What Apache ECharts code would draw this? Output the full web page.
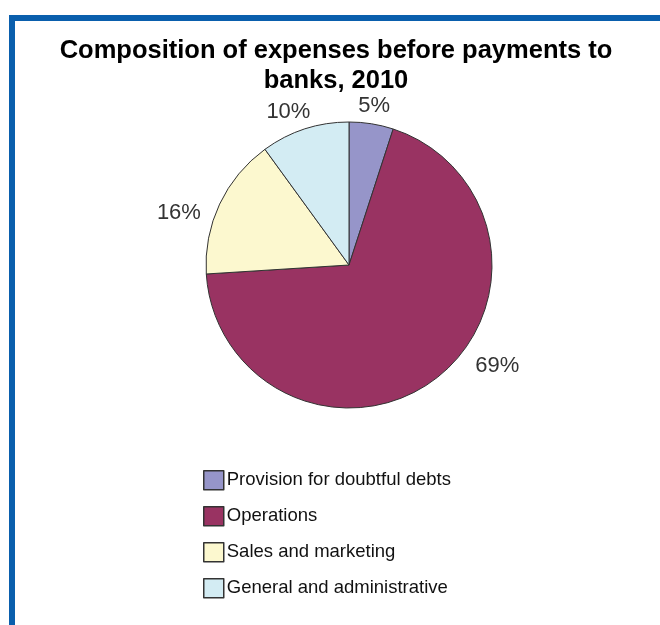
<!DOCTYPE html>
<html><head><meta charset="utf-8">
<script src="https://cdn.jsdelivr.net/npm/echarts@6/dist/echarts.min.js"></script>
<style>html,body{margin:0;padding:0;background:#fff}#c{width:660px;height:625px}</style>
</head><body><div id="c"></div>
<script>
const titleText = 'Composition of expenses before payments to\nbanks, 2010';
const categories = ['Provision for doubtful debts', 'Operations', 'Sales and marketing', 'General and administrative'];
const shares = [5, 69, 16, 10];
const colors = ['#9695c9', '#993362', '#fcf8cf', '#d3ecf3'];
const labelOffsets = [[-1, 6], [46, -31], [-19, 19], [-9, 6]];

const pieData = categories.map((name, i) => ({
  name, value: shares[i], itemStyle: { color: colors[i] }
}));
const labelData = categories.map((name, i) => ({
  name, value: shares[i], label: { offset: labelOffsets[i] }
}));

const chart = echarts.init(document.getElementById('c'), null, { renderer: 'canvas' });
chart.setOption({
  animation: false,
  backgroundColor: '#ffffff',
  title: {
    text: titleText,
    left: 331, top: 31, textAlign: 'center',
    textStyle: { fontFamily: 'Liberation Sans, Arial, sans-serif', fontWeight: 'bold', fontSize: 25.5, lineHeight: 30, color: '#000' }
  },
  graphic: [
    { type: 'rect', shape: { x: 9, y: 15, width: 651, height: 6 }, style: { fill: '#0a5fad' } },
    { type: 'rect', shape: { x: 9, y: 15, width: 6, height: 610 }, style: { fill: '#0a5fad' } }
  ],
  legend: {
    orient: 'vertical', left: 198, top: 465,
    itemWidth: 20, itemHeight: 19, itemGap: 15.5,
    icon: 'rect',
    data: categories.map((name, i) => ({ name, itemStyle: { color: colors[i], borderColor: '#333', borderWidth: 1.5 } })),
    textStyle: { fontFamily: 'Liberation Sans, Arial, sans-serif', fontSize: 18.5, color: '#111', padding: [0, 0, 0, -2] },
    selectedMode: false
  },
  series: [
    {
      type: 'pie', name: 'main', center: [349, 265], radius: [0, 143],
      startAngle: 90, clockwise: true,
      itemStyle: { borderColor: '#333', borderWidth: 1 },
      label: { show: false }, labelLine: { show: false },
      emphasis: { disabled: true },
      data: pieData
    },
    {
      type: 'pie', name: 'labels', center: [349, 265], radius: [143, 185],
      startAngle: 90, clockwise: true, silent: true, legendHoverLink: false,
      itemStyle: { color: 'rgba(0,0,0,0)', borderWidth: 0 },
      label: { show: true, position: 'inside', formatter: '{c}%', fontFamily: 'Liberation Sans, Arial, sans-serif', fontSize: 22, color: '#333' },
      labelLine: { show: false },
      emphasis: { disabled: true },
      data: labelData
    }
  ]
});
</script></body></html>
